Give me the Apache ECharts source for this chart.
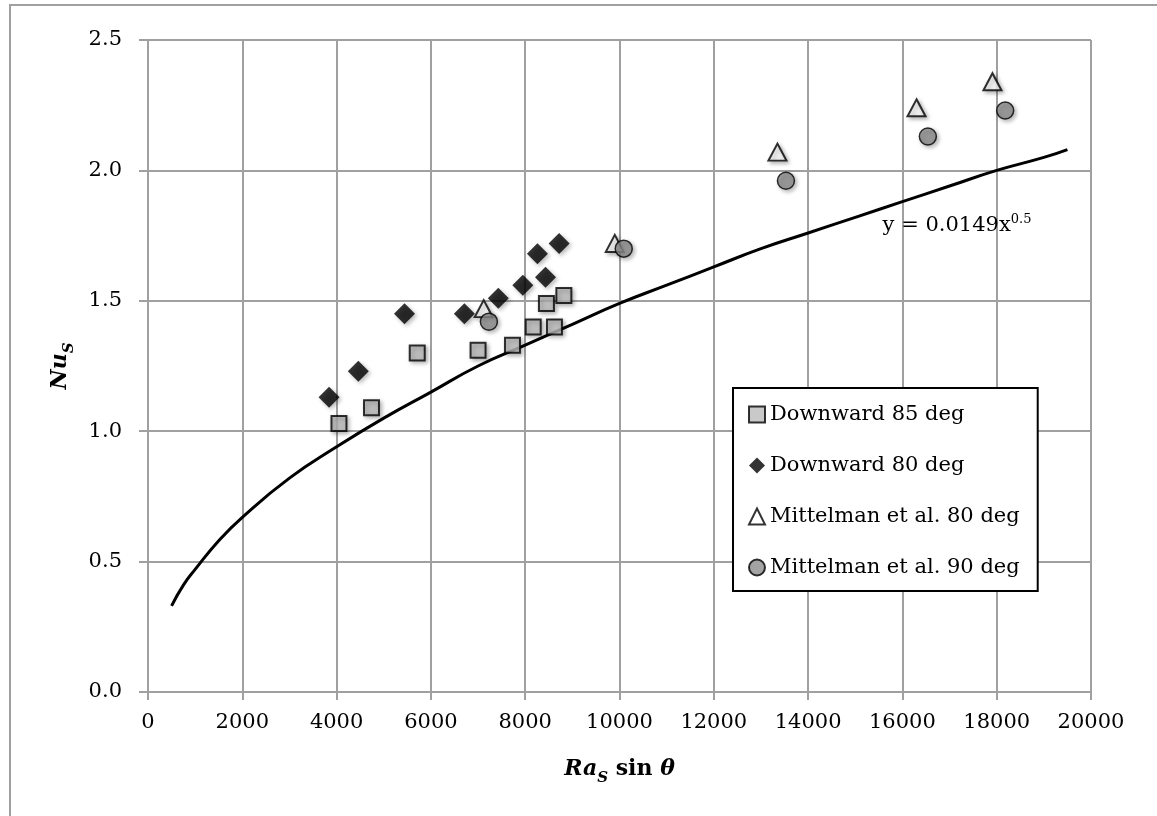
<!DOCTYPE html>
<html>
<head>
    <meta charset="utf-8">
    <script src="https://cdn.jsdelivr.net/npm/echarts@6/dist/echarts.min.js"></script>
</head>
<body>
    <div id="chart"></div>
</body>
<style>
    body {
        margin: 0;
        background: #fff;
    }

    #chart {
        width: 1157px;
        height: 816px;
    }
</style>
<script>
    // x axis ticks
    const xMin = 0, xMax = 20000, xStep = 2000
    const yMin = 0, yMax = 2.5, yStep = 0.5

    // Downward 85 deg (squares)
    const down85X = [4050, 4740, 5710, 7000, 7730, 8170, 8620, 8450, 8820]
    const down85Y = [1.03, 1.09, 1.30, 1.31, 1.33, 1.40, 1.40, 1.49, 1.52]

    // Downward 80 deg (diamonds)
    const down80X = [3840, 4460, 5440, 6710, 7430, 7950, 8430, 8260, 8720]
    const down80Y = [1.13, 1.23, 1.45, 1.45, 1.51, 1.56, 1.59, 1.68, 1.72]

    // Mittelman et al. 80 deg (triangles)
    const mit80X = [7120, 9900, 13350, 16300, 17910]
    const mit80Y = [1.47, 1.72, 2.07, 2.24, 2.34]

    // Mittelman et al. 90 deg (circles)
    const mit90X = [7230, 10090, 13530, 16540, 18180]
    const mit90Y = [1.42, 1.70, 1.96, 2.13, 2.23]

    // trend line
    const fitX = [500, 750, 1000, 1500, 2000, 3000, 4000, 5000, 6000, 7000, 8000, 9000, 10000,
        11000, 12000, 13000, 14000, 15000, 16000, 17000, 18000, 19000, 19500]
    const fitY = [0.33, 0.41, 0.47, 0.58, 0.67, 0.82, 0.94, 1.05, 1.15, 1.25, 1.33, 1.41, 1.49,
        1.56, 1.63, 1.70, 1.76, 1.82, 1.88, 1.94, 2.00, 2.05, 2.08]

    const seriesNames = ['Downward 85 deg', 'Downward 80 deg', 'Mittelman et al. 80 deg', 'Mittelman et al. 90 deg']

    const zip = (xs, ys) => xs.map((x, i) => [x, ys[i]])

    const font = 'DejaVu Serif'
    const gridColor = '#a0a0a0'
    const shadow = {
        shadowBlur: 4,
        shadowOffsetX: 2,
        shadowOffsetY: 2,
        shadowColor: 'rgba(0,0,0,0.35)'
    }

    // rich styles for axis names: subscript sits lower than the main text
    const nameRich = {
        it: { fontFamily: font, fontSize: 22, fontWeight: 'bold', fontStyle: 'italic', lineHeight: 22, padding: [0, 0, 6, 0], verticalAlign: 'bottom' },
        b: { fontFamily: font, fontSize: 22, fontWeight: 'bold', lineHeight: 22, padding: [0, 0, 6, 0], verticalAlign: 'bottom' },
        sub: { fontFamily: font, fontSize: 15, fontWeight: 'bold', fontStyle: 'italic', lineHeight: 15, verticalAlign: 'bottom' }
    }

    const chart = echarts.init(document.getElementById('chart'))

    let option = {
        animation: false,
        textStyle: { fontFamily: font, color: '#000' },
        graphic: [{
            type: 'rect',
            shape: { x: 10, y: 5, width: 1200, height: 900 },
            style: { fill: 'none', stroke: gridColor, lineWidth: 2 },
            z: -1
        }],
        grid: {
            left: 148,
            right: 66,
            top: 40,
            bottom: 124
        },
        legend: {
            data: seriesNames,
            orient: 'vertical',
            left: 733,
            top: 388,
            padding: [16, 18, 13, 15],
            itemGap: 30,
            itemWidth: 16,
            itemHeight: 16,
            backgroundColor: '#fff',
            borderColor: '#000',
            borderWidth: 2,
            textStyle: { fontFamily: font, fontSize: 21, color: '#000' }
        },
        xAxis: {
            type: 'value',
            min: xMin,
            max: xMax,
            interval: xStep,
            name: '{it|Ra}{sub|S}{b| sin }{it|θ}',
            nameLocation: 'middle',
            nameGap: 72,
            nameTextStyle: { rich: nameRich },
            axisLine: { lineStyle: { color: gridColor, width: 2 } },
            axisTick: { length: 8, lineStyle: { color: gridColor, width: 2 } },
            axisLabel: {
                fontFamily: font, fontSize: 21, color: '#000', margin: 20,
                formatter: v => String(v)
            },
            splitLine: { lineStyle: { color: gridColor, width: 2 } }
        },
        yAxis: {
            type: 'value',
            min: yMin,
            max: yMax,
            interval: yStep,
            name: '{it|Nu}{sub|S}',
            nameLocation: 'middle',
            nameRotate: 90,
            nameGap: 71,
            nameTextStyle: { rich: nameRich },
            axisLine: { show: true, lineStyle: { color: gridColor, width: 2 } },
            axisTick: { show: true, length: 9, lineStyle: { color: gridColor, width: 2 } },
            axisLabel: {
                fontFamily: font, fontSize: 21, color: '#000', margin: 26,
                formatter: v => v.toFixed(1)
            },
            splitLine: { lineStyle: { color: gridColor, width: 2 } }
        },
        series: [
            {
                name: 'fit',
                type: 'line',
                data: zip(fitX, fitY),
                smooth: true,
                showSymbol: false,
                silent: true,
                z: 1,
                lineStyle: { color: '#000', width: 3 },
                markPoint: {
                    symbol: 'circle',
                    symbolSize: 0,
                    silent: true,
                    data: [{ coord: [15580, 1.79] }],
                    label: {
                        show: true,
                        position: 'right',
                        distance: 0,
                        formatter: '{t|y = 0.0149x}{sup|0.5}',
                        rich: {
                            t: { fontFamily: font, fontSize: 21, color: '#000', lineHeight: 21, verticalAlign: 'bottom' },
                            sup: { fontFamily: font, fontSize: 13, color: '#000', lineHeight: 13, padding: [0, 0, 10, 0], verticalAlign: 'bottom' }
                        }
                    }
                }
            },
            {
                name: seriesNames[0],
                type: 'scatter',
                data: zip(down85X, down85Y),
                symbol: 'rect',
                symbolSize: 15,
                z: 3,
                itemStyle: Object.assign({ color: '#bcbcbc', borderColor: '#000', borderWidth: 2 }, shadow)
            },
            {
                name: seriesNames[1],
                type: 'scatter',
                data: zip(down80X, down80Y),
                symbol: 'diamond',
                symbolSize: 21,
                z: 3,
                itemStyle: Object.assign({ color: '#000' }, shadow)
            },
            {
                name: seriesNames[2],
                type: 'scatter',
                data: zip(mit80X, mit80Y),
                symbol: 'triangle',
                symbolSize: [18, 17],
                z: 3,
                itemStyle: Object.assign({ color: '#fff', borderColor: '#000', borderWidth: 2 }, shadow)
            },
            {
                name: seriesNames[3],
                type: 'scatter',
                data: zip(mit90X, mit90Y),
                symbol: 'circle',
                symbolSize: 17,
                z: 4,
                itemStyle: Object.assign({ color: '#8c8c8c', borderColor: '#000', borderWidth: 1.5 }, shadow)
            }
        ]
    }

    chart.setOption(option)
</script>
</html>
